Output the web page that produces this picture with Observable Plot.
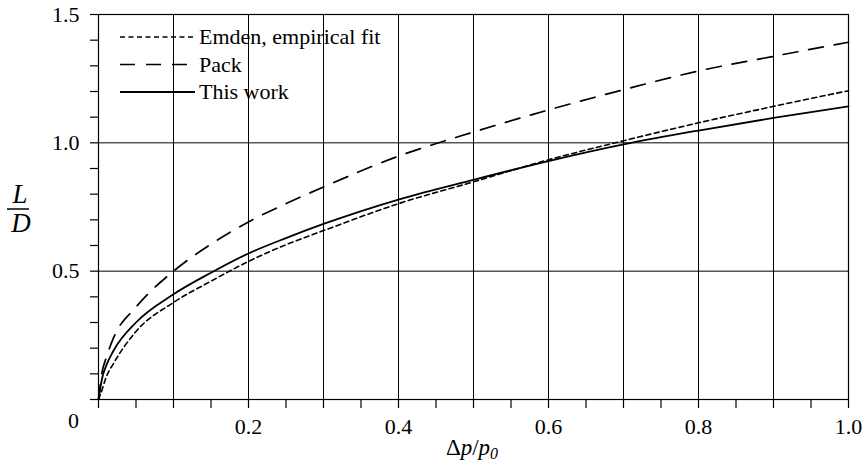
<!DOCTYPE html>
<html>
<head>
<meta charset="utf-8">
<script src="https://cdn.jsdelivr.net/npm/d3@7"></script>
<script src="https://cdn.jsdelivr.net/npm/@observablehq/plot@0.6"></script>
<style>
  body { margin: 0; background: #fff; }
  #chart svg { display: block; }
</style>
</head>
<body>
<div id="chart"></div>
<script>
// Δp/p0 sample positions
const xs = [0, 0.005, 0.01, 0.02, 0.05, 0.1, 0.15, 0.2, 0.25, 0.3, 0.4, 0.5, 0.6, 0.7, 0.8, 0.9, 1.0];
// L/D values
const thisWork = [0, 0.085, 0.13, 0.19, 0.300, 0.410, 0.494, 0.569, 0.629, 0.684, 0.779, 0.856, 0.929, 0.994, 1.048, 1.097, 1.142];
const emden    = [0, 0.040, 0.085, 0.14, 0.265, 0.378, 0.461, 0.538, 0.603, 0.658, 0.763, 0.848, 0.934, 1.008, 1.078, 1.142, 1.203];
const pack     = [0, 0.110, 0.160, 0.24, 0.360, 0.500, 0.605, 0.692, 0.763, 0.828, 0.948, 1.042, 1.128, 1.207, 1.280, 1.337, 1.392];

const seriesNames = ["Emden, empirical fit", "Pack", "This work"];
const xTicks = [0, 0.05, 0.1, 0.15, 0.2, 0.25, 0.3, 0.35, 0.4, 0.45, 0.5, 0.55, 0.6, 0.65, 0.7, 0.75, 0.8, 0.85, 0.9, 0.95, 1.0];
const xTickLabels = [0.2, 0.4, 0.6, 0.8, 1.0];
const yTicks = [0, 0.1, 0.2, 0.3, 0.4, 0.5, 0.6, 0.7, 0.8, 0.9, 1.0, 1.1, 1.2, 1.3, 1.4, 1.5];
const yTickLabels = [0.5, 1.0, 1.5];
const xGrid = [0.1, 0.2, 0.3, 0.4, 0.5, 0.6, 0.7, 0.8, 0.9];
const yGrid = [0.5, 1.0];

const rows = (arr) => xs.map((x, i) => ({x, y: arr[i]}));
const styles = {
  "Emden, empirical fit": {dash: "5,3.5", width: 1.6},
  "Pack": {dash: "15,11", width: 1.7},
  "This work": {dash: null, width: 1.8}
};

const fmtLabel = (list) => (d) => list.some(v => Math.abs(v - d) < 1e-9) ? d.toFixed(1) : "";

const font = "'Liberation Serif', 'DejaVu Serif', serif";

const plot = Plot.plot({
  width: 862,
  height: 467,
  marginLeft: 98,
  marginRight: 14,
  marginTop: 14,
  marginBottom: 68,
  style: {fontFamily: font, fontSize: "22px", color: "black", background: "white"},
  x: {domain: [0, 1], label: null},
  y: {domain: [0, 1.5], label: null},
  marks: [
    Plot.gridX(xGrid, {stroke: "black", strokeOpacity: 1, strokeWidth: 1}),
    Plot.gridY(yGrid, {stroke: "black", strokeOpacity: 1, strokeWidth: 1}),
    Plot.frame({stroke: "black", strokeWidth: 1.2}),
    Plot.axisX(xTicks, {tickSize: 9, tickPadding: 10, tickFormat: fmtLabel(xTickLabels), label: null, fontSize: 22, strokeWidth: 1.2}),
    Plot.axisY(yTicks, {tickSize: 8, tickPadding: 11, tickFormat: fmtLabel(yTickLabels), label: null, fontSize: 22, strokeWidth: 1.2}),
    Plot.text(["0"], {x: () => 0, frameAnchor: "bottom", dy: 28, dx: -25, text: d => d, fontSize: 22}),
    Plot.line(rows(emden), {x: "x", y: "y", curve: "monotone-x", stroke: "black", strokeWidth: styles["Emden, empirical fit"].width, strokeDasharray: styles["Emden, empirical fit"].dash}),
    Plot.line(rows(pack), {x: "x", y: "y", curve: "monotone-x", stroke: "black", strokeWidth: styles["Pack"].width, strokeDasharray: styles["Pack"].dash}),
    Plot.line(rows(thisWork), {x: "x", y: "y", curve: "monotone-x", stroke: "black", strokeWidth: styles["This work"].width})
  ]
});

document.getElementById("chart").appendChild(plot);

const svg = d3.select(plot);

// Legend (inside plot, upper left)
const leg = svg.append("g").attr("font-family", font).attr("font-size", 22).attr("text-anchor", "start");
seriesNames.forEach((name, i) => {
  const y = 37 + i * 27.5;
  leg.append("line")
    .attr("x1", 120).attr("x2", 195).attr("y1", y).attr("y2", y)
    .attr("stroke", "black")
    .attr("stroke-width", styles[name].width)
    .attr("stroke-dasharray", styles[name].dash);
  leg.append("text")
    .attr("x", 199).attr("y", y).attr("dy", "0.34em")
    .attr("text-anchor", "start")
    .attr("fill", "black")
    .text(name);
});

// X axis title: Δp/p0
const xt = svg.append("text")
  .attr("x", 472).attr("y", 455)
  .attr("text-anchor", "middle")
  .attr("font-family", font).attr("font-size", 23).attr("fill", "black");
xt.append("tspan").text("Δ");
xt.append("tspan").attr("font-style", "italic").text("p");
xt.append("tspan").text("/");
xt.append("tspan").attr("font-style", "italic").text("p");
xt.append("tspan").attr("font-style", "italic").attr("font-size", 16).attr("dy", 4).text("0");

// Y axis title: L over D
const yt = svg.append("g").attr("font-family", font).attr("font-size", 27).attr("font-style", "italic").attr("fill", "black");
yt.append("text").attr("x", 20).attr("y", 203).attr("text-anchor", "middle").text("L");
yt.append("line").attr("x1", 7).attr("x2", 29).attr("y1", 209).attr("y2", 209).attr("stroke", "black").attr("stroke-width", 1.5);
yt.append("text").attr("x", 21).attr("y", 232).attr("text-anchor", "middle").text("D");
</script>
</body>
</html>
